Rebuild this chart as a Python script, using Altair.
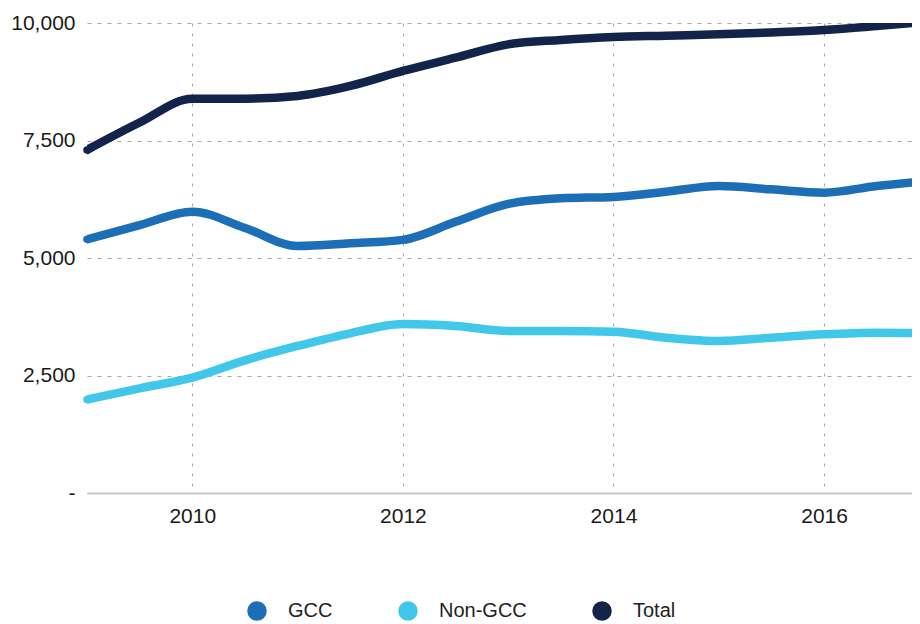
import altair as alt
import pandas as pd

years = [2009, 2009.5, 2010, 2010.5, 2011, 2011.5, 2012, 2012.5, 2013, 2013.5,
         2014, 2014.5, 2015, 2015.5, 2016, 2016.5, 2017]
gcc = [5397, 5700, 5986, 5640, 5255, 5312, 5385, 5770, 6150, 6270,
       6300, 6411, 6532, 6461, 6390, 6532, 6640]
non_gcc = [1990, 2227, 2453, 2823, 3128, 3398, 3595, 3553, 3447, 3447,
           3432, 3305, 3234, 3305, 3376, 3411, 3400]
total = [7300, 7883, 8390, 8390, 8447, 8660, 8980, 9262, 9546, 9638,
         9702, 9730, 9759, 9800, 9851, 9935, 10030]

series_names = ["GCC", "Non-GCC", "Total"]
series_colors = ["#1c6fb7", "#40c7ea", "#13244a"]
y_ticks = [0, 2500, 5000, 7500, 10000]
x_ticks = [2010, 2012, 2014, 2016]

rows = []
for name, vals in zip(series_names, [gcc, non_gcc, total]):
    for yr, v in zip(years, vals):
        rows.append({"year": yr, "value": v, "series": name})
df = pd.DataFrame(rows)

FONT = "Liberation Sans"
LW = 8.5

x_enc = alt.X(
    "year:Q",
    scale=alt.Scale(domain=[2009, 2016.835], nice=False, zero=False),
    axis=alt.Axis(
        values=x_ticks,
        format="d",
        title=None,
        ticks=False,
        domain=True,
        domainColor="#c8c8c8",
        domainWidth=2,
        grid=True,
        gridColor="#aaaaaa",
        gridDash=[3, 7],
        gridWidth=1,
        labelFont=FONT,
        labelFontSize=21,
        labelColor="#1a1a1a",
        labelPadding=12,
    ),
)
y_enc = alt.Y(
    "value:Q",
    scale=alt.Scale(domain=[0, 10000], nice=False),
    axis=alt.Axis(
        values=y_ticks,
        labelExpr="datum.value == 0 ? '-' : format(datum.value, ',')",
        title=None,
        ticks=False,
        domain=False,
        grid=True,
        gridColor="#aaaaaa",
        gridDash=[4, 6],
        gridWidth=1,
        labelFont=FONT,
        labelFontSize=21,
        labelColor="#1a1a1a",
        labelPadding=12,
    ),
)
color_scale = alt.Scale(domain=series_names, range=series_colors)

lines = (
    alt.Chart(df)
    .mark_line(strokeWidth=LW, strokeCap="round", strokeJoin="round", interpolate="monotone", clip=True)
    .encode(
        x=x_enc,
        y=y_enc,
        color=alt.Color("series:N", scale=color_scale, legend=None),
    )
)

start_caps = (
    alt.Chart(df)
    .transform_filter(alt.datum.year == years[0])
    .mark_circle(size=57, opacity=1)
    .encode(
        x=alt.X("year:Q"),
        y=alt.Y("value:Q"),
        color=alt.Color(
            "series:N",
            scale=color_scale,
            legend=alt.Legend(
                title=None,
                orient="none",
                direction="horizontal",
                legendX=160,
                legendY=578,
                symbolType="circle",
                symbolSize=380,
                symbolStrokeWidth=0,
                symbolOpacity=1,
                labelFont=FONT,
                labelFontSize=20,
                labelColor="#222222",
                labelOffset=21,
                columnPadding=65,
                padding=0,
            ),
        ),
    )
)

chart = (
    alt.layer(lines, start_caps)
    .resolve_legend(color="independent")
    .properties(
        width=825,
        height=470,
        padding={"left": 2, "top": 4, "right": 0, "bottom": 0},
    )
    .configure_view(stroke=None)
)

chart.save("out.html", embed_options={"renderer": "svg", "actions": False})
